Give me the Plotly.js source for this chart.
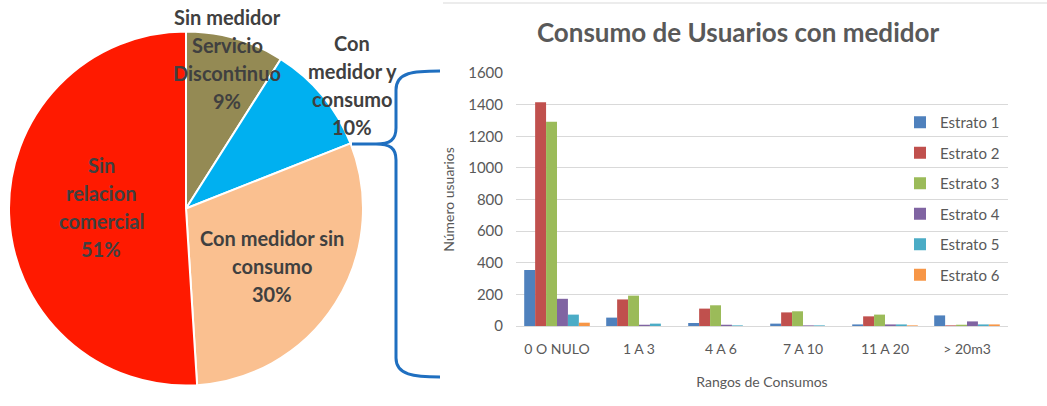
<!DOCTYPE html>
<html>
<head>
<meta charset="utf-8">
<script src="https://cdn.plot.ly/plotly-3.0.1.min.js"></script>
<style>html,body{margin:0;padding:0;background:#fff;}#chart{width:1047px;height:406px;}</style>
</head>
<body>
<div id="chart"></div>
<script>
// ---- Pie data ----
const pieLabels = ["Sin medidor Servicio Discontinuo", "Con medidor y consumo", "Con medidor sin consumo", "Sin relacion comercial"];
const pieLabelLines = [
  ["Sin medidor", "Servicio", "Discontinuo"],
  ["Con", "medidor y", "consumo"],
  ["Con medidor sin", "consumo"],
  ["Sin", "relacion", "comercial"]
];
const pieValues = [9, 10, 30, 51];
const pieColors = ["#948A54", "#00B0F0", "#FAC090", "#FF1A00"];

// ---- Bar data ----
const categories = ["0 O NULO", "1 A 3", "4 A 6", "7 A 10", "11 A 20", "> 20m3"];
const seriesNames = ["Estrato 1", "Estrato 2", "Estrato 3", "Estrato 4", "Estrato 5", "Estrato 6"];
const estrato1 = [354, 53, 19, 15, 10, 67];
const estrato2 = [1415, 168, 110, 86, 61, 4];
const estrato3 = [1292, 192, 131, 93, 72, 8];
const estrato4 = [172, 8, 8, 4, 10, 29];
const estrato5 = [72, 15, 4, 4, 10, 10];
const estrato6 = [21, 0, 0, 0, 4, 10];
const barColors = ["#4F81BD", "#C0504D", "#9BBB59", "#8064A2", "#4BACC6", "#F79646"];
const barSeries = [estrato1, estrato2, estrato3, estrato4, estrato5, estrato6];

// ---- helpers: pixel -> paper ----
const W = 1047, H = 406;
const px = x => x / W;
const py = y => 1 - y / H;

const FONT = "Lato, 'Open Sans', sans-serif";

const traces = [];
traces.push({
  type: "pie",
  labels: pieLabels,
  values: pieValues,
  sort: false,
  direction: "clockwise",
  rotation: 0,
  marker: {colors: pieColors, line: {color: "#ffffff", width: 2}},
  textinfo: "none",
  hoverinfo: "label+percent",
  showlegend: false,
  domain: {x: [px(9), px(363)], y: [py(386), py(31)]}
});

barSeries.forEach((vals, i) => {
  traces.push({
    type: "bar",
    name: seriesNames[i],
    x: categories,
    y: vals,
    marker: {color: barColors[i]},
    legendgroup: "g" + i,
    xaxis: "x",
    yaxis: "y"
  });
});

// pie label annotations (one per line)
const pieLabelPos = [[227, 17], [352, 43], [272, 238], [101, 165]];
const lineGap = 28;
const annotations = [];
pieLabelLines.forEach((lines, i) => {
  const all = lines.concat([pieValues[i] + "%"]);
  all.forEach((t, j) => {
    annotations.push({
      xref: "paper", yref: "paper",
      x: px(pieLabelPos[i][0]), y: py(pieLabelPos[i][1] + j * lineGap),
      xanchor: "center", yanchor: "middle",
      text: "<b>" + t + "</b>", showarrow: false,
      font: {family: FONT, size: 20, color: "#404040"}
    });
  });
});

// brace path
const bp = (x, y) => px(x).toFixed(5) + "," + py(y).toFixed(5);
const bracePath = "M" + bp(440, 71) +
  " C" + bp(414, 71) + " " + bp(396, 72) + " " + bp(396, 90) +
  " L" + bp(396, 128) +
  " C" + bp(396, 140) + " " + bp(390, 144) + " " + bp(376, 144) +
  " L" + bp(352, 144) +
  " L" + bp(376, 144) +
  " C" + bp(390, 144) + " " + bp(396, 148) + " " + bp(396, 160) +
  " L" + bp(396, 358) +
  " C" + bp(396, 375) + " " + bp(414, 377) + " " + bp(440, 377);

const layout = {
  width: W, height: H,
  margin: {l: 0, r: 0, t: 0, b: 0},
  paper_bgcolor: "#ffffff",
  plot_bgcolor: "rgba(0,0,0,0)",
  font: {family: FONT, color: "#595959"},
  title: {
    text: "<b>Consumo de Usuarios con medidor</b>",
    x: px(738), xanchor: "center", xref: "paper",
    y: py(33), yanchor: "middle", yref: "paper",
    font: {family: FONT, size: 26, color: "#595959"}
  },
  barmode: "group",
  bargap: 0.2,
  bargroupgap: 0,
  xaxis: {
    domain: [px(516), px(1008)],
    anchor: "y",
    showgrid: false,
    showline: true, linecolor: "#D9D9D9", linewidth: 1,
    ticks: "", ticklabelstandoff: 10,
    tickfont: {family: FONT, size: 14, color: "#595959"},
    title: {text: "Rangos de Consumos", font: {family: FONT, size: 14, color: "#595959"}, standoff: 21},
    fixedrange: true
  },
  yaxis: {
    domain: [py(326), py(73)],
    anchor: "x",
    range: [0, 1600], dtick: 200,
    showgrid: true, gridcolor: "#D9D9D9", gridwidth: 1,
    zeroline: false, showline: false, ticks: "",
    ticklabelstandoff: 12,
    tickfont: {family: FONT, size: 15, color: "#595959"},
    title: {text: "Número usuarios", font: {family: FONT, size: 14, color: "#595959"}, standoff: 10},
    fixedrange: true
  },
  showlegend: true,
  legend: {
    x: px(900), y: py(106), xanchor: "left", yanchor: "top",
    bgcolor: "rgba(0,0,0,0)",
    font: {family: FONT, size: 15, color: "#595959"},
    tracegroupgap: 8,
    itemwidth: 30
  },
  annotations: annotations,
  shapes: [
    {type: "path", path: bracePath, xref: "paper", yref: "paper", line: {color: "#1F6FC0", width: 3}},
    {type: "line", xref: "paper", yref: "paper", x0: px(443), x1: px(1047), y0: py(3), y1: py(3), line: {color: "#D9D9D9", width: 1}}
  ]
};

Plotly.newPlot("chart", traces, layout, {displayModeBar: false, staticPlot: true});
</script>
</body>
</html>
